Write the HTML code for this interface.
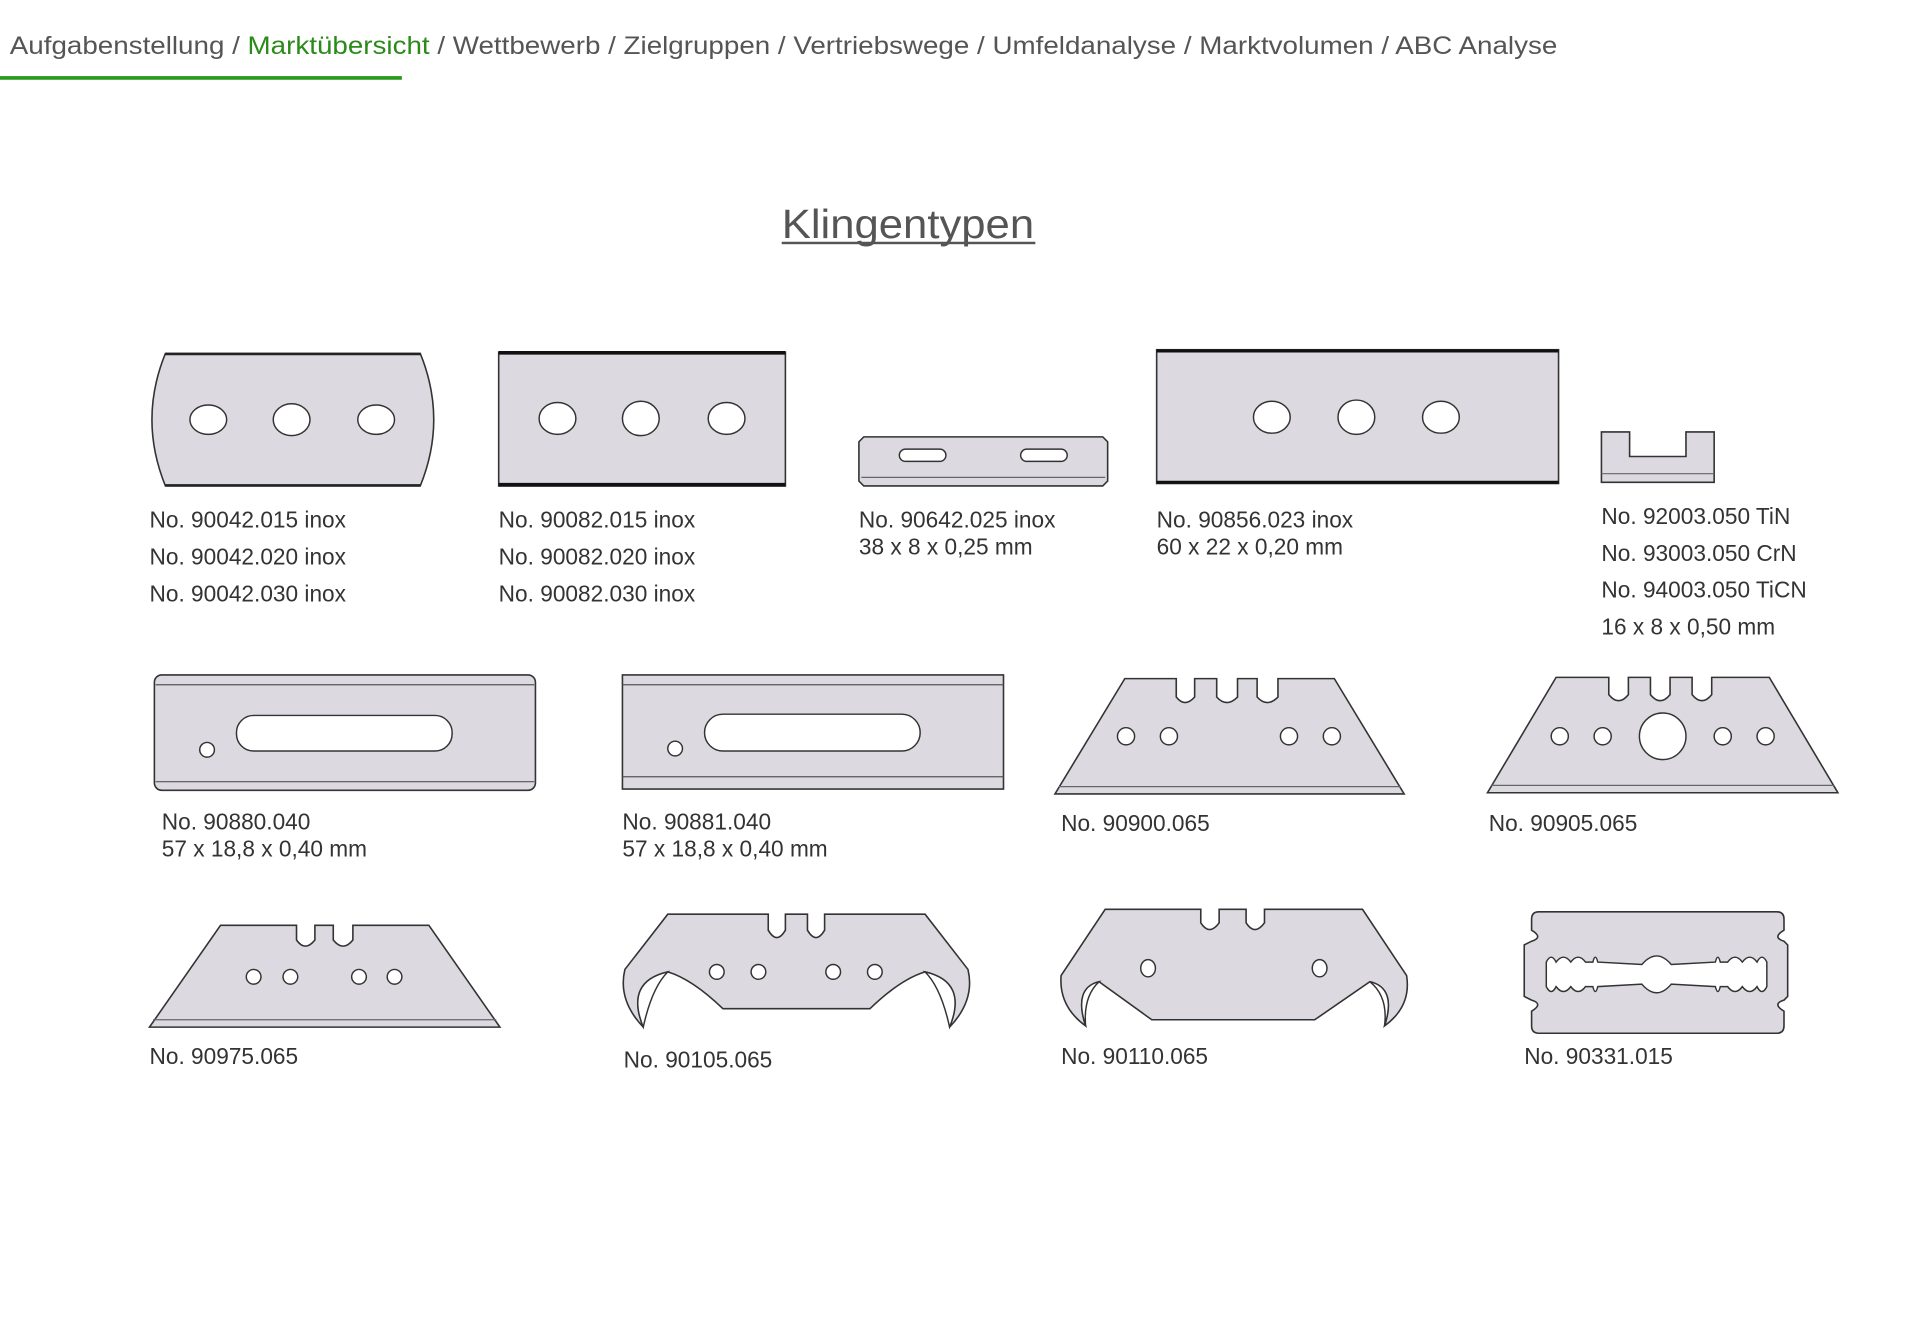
<!DOCTYPE html>
<html><head><meta charset="utf-8"><style>
html,body{margin:0;padding:0;background:#fff;width:1920px;height:1329px;overflow:hidden}
svg{display:block}
.n{font-family:"Liberation Sans",sans-serif;font-size:20px;fill:#555}
.l{font-family:"Liberation Sans",sans-serif;font-size:18.5px;fill:#333}
.b{fill:#dcdae0;stroke:#333;stroke-width:1.3}
.h{fill:#fff;stroke:#333;stroke-width:1.2}
</style></head><body>
<svg width="1920" height="1329" viewBox="0 0 1567 1083" preserveAspectRatio="none">
<text class="n" x="8" y="44" textLength="1263" lengthAdjust="spacingAndGlyphs">Aufgabenstellung / <tspan fill="#2a8a1a">Marktübersicht</tspan> / Wettbewerb / Zielgruppen / Vertriebswege / Umfeldanalyse / Marktvolumen / ABC Analyse</text>
<rect x="0" y="62" width="328" height="3" fill="#2a9a1f"/>
<text x="741" y="194" text-anchor="middle" font-family="Liberation Sans,sans-serif" font-size="33" fill="#555" textLength="206" lengthAdjust="spacingAndGlyphs">Klingentypen</text>
<rect x="638" y="197" width="207" height="2" fill="#555"/>

<!-- Row 1 -->
<path class="b" d="M135,288 L343,288 Q365,342 343,396 L135,396 Q113,342 135,288Z"/>
<line x1="135" y1="288.5" x2="343" y2="288.5" stroke="#222" stroke-width="2"/>
<line x1="135" y1="395.5" x2="343" y2="395.5" stroke="#222" stroke-width="2"/>
<ellipse class="h" cx="170" cy="342" rx="15" ry="12"/><ellipse class="h" cx="238" cy="342" rx="15" ry="13"/><ellipse class="h" cx="307" cy="342" rx="15" ry="12"/>

<rect class="b" x="407" y="287" width="234" height="109"/>
<line x1="407" y1="287.5" x2="641" y2="287.5" stroke="#111" stroke-width="3"/>
<line x1="407" y1="395" x2="641" y2="395" stroke="#111" stroke-width="3"/>
<ellipse class="h" cx="455" cy="341" rx="15" ry="13"/><ellipse class="h" cx="523" cy="341" rx="15" ry="14"/><ellipse class="h" cx="593" cy="341" rx="15" ry="13"/>

<path class="b" d="M705,356 L900,356 L904,360 L904,392 L900,396 L705,396 L701,392 L701,360Z"/>
<line x1="703" y1="389" x2="902" y2="389" stroke="#666" stroke-width="1"/>
<rect class="h" x="734" y="366" width="38" height="10" rx="5"/><rect class="h" x="833" y="366" width="38" height="10" rx="5"/>

<rect class="b" x="944" y="285" width="328" height="109"/>
<line x1="944" y1="286" x2="1272" y2="286" stroke="#111" stroke-width="2.5"/>
<line x1="944" y1="393" x2="1272" y2="393" stroke="#111" stroke-width="2.5"/>
<ellipse class="h" cx="1038" cy="340" rx="15" ry="13"/><ellipse class="h" cx="1107" cy="340" rx="15" ry="14"/><ellipse class="h" cx="1176" cy="340" rx="15" ry="13"/>

<path class="b" d="M1307,352 L1330,352 L1330,372 L1376,372 L1376,352 L1399,352 L1399,393 L1307,393Z"/>
<line x1="1307" y1="386" x2="1399" y2="386" stroke="#666"/>

<g class="l">
<text x="122" y="430">No. 90042.015 inox</text><text x="122" y="460">No. 90042.020 inox</text><text x="122" y="490">No. 90042.030 inox</text>
<text x="407" y="430">No. 90082.015 inox</text><text x="407" y="460">No. 90082.020 inox</text><text x="407" y="490">No. 90082.030 inox</text>
<text x="701" y="430">No. 90642.025 inox</text><text x="701" y="452">38 x 8 x 0,25 mm</text>
<text x="944" y="430">No. 90856.023 inox</text><text x="944" y="452">60 x 22 x 0,20 mm</text>
<text x="1307" y="427">No. 92003.050 TiN</text><text x="1307" y="457">No. 93003.050 CrN</text><text x="1307" y="487">No. 94003.050 TiCN</text><text x="1307" y="517">16 x 8 x 0,50 mm</text>
</g>

<!-- Row 2 -->
<rect class="b" x="126" y="550" width="311" height="94" rx="6"/>
<line x1="127" y1="558" x2="436" y2="558" stroke="#555"/><line x1="127" y1="637" x2="436" y2="637" stroke="#555"/>
<rect class="h" x="193" y="583" width="176" height="29" rx="14"/><circle class="h" cx="169" cy="611" r="6"/>

<rect class="b" x="508" y="550" width="311" height="93"/>
<line x1="508" y1="558" x2="819" y2="558" stroke="#555"/><line x1="508" y1="633" x2="819" y2="633" stroke="#555"/>
<rect class="h" x="575" y="582" width="176" height="30" rx="15"/><circle class="h" cx="551" cy="610" r="6"/>

<path class="b" d="M918,553 L960,553 L960,568 Q967,577 975,568 L975,553 L993,553 L993,568 Q1001,577 1010,568 L1010,553 L1026,553 L1026,568 Q1034,577 1043,568 L1043,553 L1089,553 L1146,647 L861,647Z"/>
<line x1="864" y1="641" x2="1143" y2="641" stroke="#666"/>
<circle class="h" cx="919" cy="600" r="7"/><circle class="h" cx="954" cy="600" r="7"/><circle class="h" cx="1052" cy="600" r="7"/><circle class="h" cx="1087" cy="600" r="7"/>

<path class="b" d="M1270,552 L1313,552 L1313,566 Q1321,576 1329,566 L1329,552 L1347,552 L1347,566 Q1355,576 1363,566 L1363,552 L1381,552 L1381,566 Q1389,576 1397,566 L1397,552 L1444,552 L1500,646 L1214,646Z"/>
<line x1="1217" y1="640" x2="1497" y2="640" stroke="#666"/>
<circle class="h" cx="1273" cy="600" r="7"/><circle class="h" cx="1308" cy="600" r="7"/><circle class="h" cx="1357" cy="600" r="19"/><circle class="h" cx="1406" cy="600" r="7"/><circle class="h" cx="1441" cy="600" r="7"/>

<g class="l">
<text x="132" y="676">No. 90880.040</text><text x="132" y="698">57 x 18,8 x 0,40 mm</text>
<text x="508" y="676">No. 90881.040</text><text x="508" y="698">57 x 18,8 x 0,40 mm</text>
<text x="866" y="677">No. 90900.065</text>
<text x="1215" y="677">No. 90905.065</text>
</g>

<!-- Row 3 -->
<path class="b" d="M180,754 L242,754 L242,766 Q249,776 257,766 L257,754 L272,754 L272,766 Q280,776 288,766 L288,754 L350,754 L408,837 L122,837Z"/>
<line x1="125" y1="831" x2="405" y2="831" stroke="#666"/>
<circle class="h" cx="207" cy="796" r="6"/><circle class="h" cx="237" cy="796" r="6"/><circle class="h" cx="293" cy="796" r="6"/><circle class="h" cx="322" cy="796" r="6"/>

<path class="b" d="M545,745 L627,745 L627,758 Q634,770 641,758 L641,745 L659,745 L659,758 Q666,770 673,758 L673,745 L755,745 L790,790 Q796,815 775,837 Q790,800 755,792 Q735,798 710,822 L590,822 Q565,798 545,792 Q510,800 525,837 Q504,815 510,790Z"/>
<path class="h" d="M775,837 Q790,800 755,792 Q768,805 775,837Z M525,837 Q510,800 545,792 Q532,805 525,837Z"/>
<circle class="h" cx="585" cy="792" r="6"/><circle class="h" cx="619" cy="792" r="6"/><circle class="h" cx="680" cy="792" r="6"/><circle class="h" cx="714" cy="792" r="6"/>

<path class="b" d="M902,741 L980,741 L980,752 Q987,763 995,752 L995,741 L1017,741 L1017,752 Q1024,763 1032,752 L1032,741 L1112,741 L1148,795 Q1152,820 1130,836 Q1140,805 1118,800 L1073,831 L940,831 L897,800 Q876,805 886,836 Q864,820 866,795Z"/>
<path class="h" d="M1130,836 Q1140,805 1118,800 Q1133,812 1130,836Z M886,836 Q876,805 897,800 Q884,812 886,836Z"/>
<ellipse class="h" cx="937" cy="789" rx="6" ry="7"/><ellipse class="h" cx="1077" cy="789" rx="6" ry="7"/>

<path class="b" d="M1256,743 L1450,743 Q1456,743 1456,749 L1456,758 Q1446,764 1456,767 L1459,770 L1459,812 L1456,815 Q1446,818 1456,824 L1456,836 Q1456,842 1450,842 L1256,842 Q1250,842 1250,836 L1250,824 Q1260,818 1250,815 L1244,812 L1244,770 L1250,767 Q1260,764 1250,758 L1250,749 Q1250,743 1256,743Z"/>
<path class="h" d="M1262,784 Q1266,776 1270,784 Q1276,776 1282,784 Q1288,776 1294,784 L1300,784 Q1302,776 1304,784 L1340,786 Q1352,772 1364,786 L1400,784 Q1402,776 1404,784 L1410,784 Q1416,776 1422,784 Q1428,776 1434,784 Q1438,776 1442,784 L1442,804 Q1438,812 1434,804 Q1428,812 1422,804 Q1416,812 1410,804 L1404,804 Q1402,812 1400,804 L1364,802 Q1352,816 1340,802 L1304,804 Q1302,812 1300,804 L1294,804 Q1288,812 1282,804 Q1276,812 1270,804 Q1266,812 1262,804Z"/>

<g class="l">
<text x="122" y="867">No. 90975.065</text>
<text x="509" y="870">No. 90105.065</text>
<text x="866" y="867">No. 90110.065</text>
<text x="1244" y="867">No. 90331.015</text>
</g>
</svg>
</body></html>
